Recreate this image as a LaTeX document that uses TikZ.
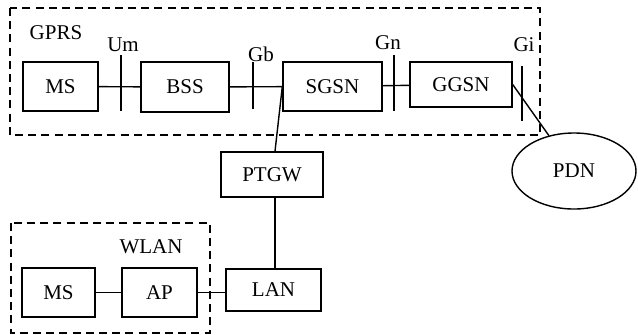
\documentclass[tikz,border=0pt]{standalone}
\usepackage{fontspec}
\setmainfont{Liberation Serif}
\usetikzlibrary{shapes.geometric}

\begin{document}
\begin{tikzpicture}[x=0.5pt,y=-0.5pt,line width=0.7pt,
    font=\fontsize{10.5}{12}\selectfont,
    box/.style={draw,rectangle,inner sep=0pt,minimum width=#1},
    area/.style={draw,line width=1.3pt,dash pattern=on 4pt off 2.6pt}]
  \useasboundingbox (0,0) rectangle (638,334);

  % dashed areas
  \draw[area] (10,8) rectangle (540,135);
  \draw[area] (11,223) rectangle (210,333);
  \node (gprs) at (56,33) {GPRS};
  \node (wlan) at (151,247) {WLAN};

  % GPRS side
  \node[box=37.5pt,minimum height=24.5pt] (MS1) at (60.5,86.5) {MS};
  \node[box=44pt,minimum height=25pt] (BSS) at (185,87) {BSS};
  \node[box=49.5pt,minimum height=24.5pt] (SGSN) at (332.5,86.5) {SGSN};
  \node[box=51pt,minimum height=22.5pt] (GGSN) at (461,84.5) {GGSN};
  \node[draw,ellipse,inner sep=0pt,minimum width=62pt,minimum height=38pt] (PDN) at (574,171) {PDN};

  % gateway and WLAN side
  \node[box=51pt,minimum height=22.5pt] (PTGW) at (272,174.5) {PTGW};
  \node[box=47.5pt,minimum height=21pt] (LAN) at (273.5,290) {LAN};
  \node[box=36.5pt,minimum height=24.5pt] (MS2) at (58.5,292.5) {MS};
  \node[box=37.5pt,minimum height=24.5pt] (AP) at (159.5,292.5) {AP};

  % interfaces
  \node (Um) at (123,45) {Um};
  \node (Gb) at (261,54) {Gb};
  \node (Gn) at (388,43) {Gn};
  \node (Gi) at (524,45) {Gi};
  \draw (121,55) -- (121,111);
  \draw (253,62) -- (253,109);
  \draw (394,55) -- (394,111);
  \draw (522,66) -- (522,121);

  % links
  \draw (MS1) -- (BSS);
  \draw (BSS) -- (SGSN);
  \draw (SGSN) -- (GGSN);
  \draw (GGSN.east) -- (PDN);
  \draw (SGSN.west) -- ([xshift=1.5pt]PTGW.north);
  \draw ([xshift=1.5pt]PTGW.south) -- ([xshift=1.5pt]PTGW.south |- LAN.north);
  \draw (MS2) -- (AP);
  \draw (AP) -- (AP -| LAN.west);

\end{tikzpicture}
\end{document}
